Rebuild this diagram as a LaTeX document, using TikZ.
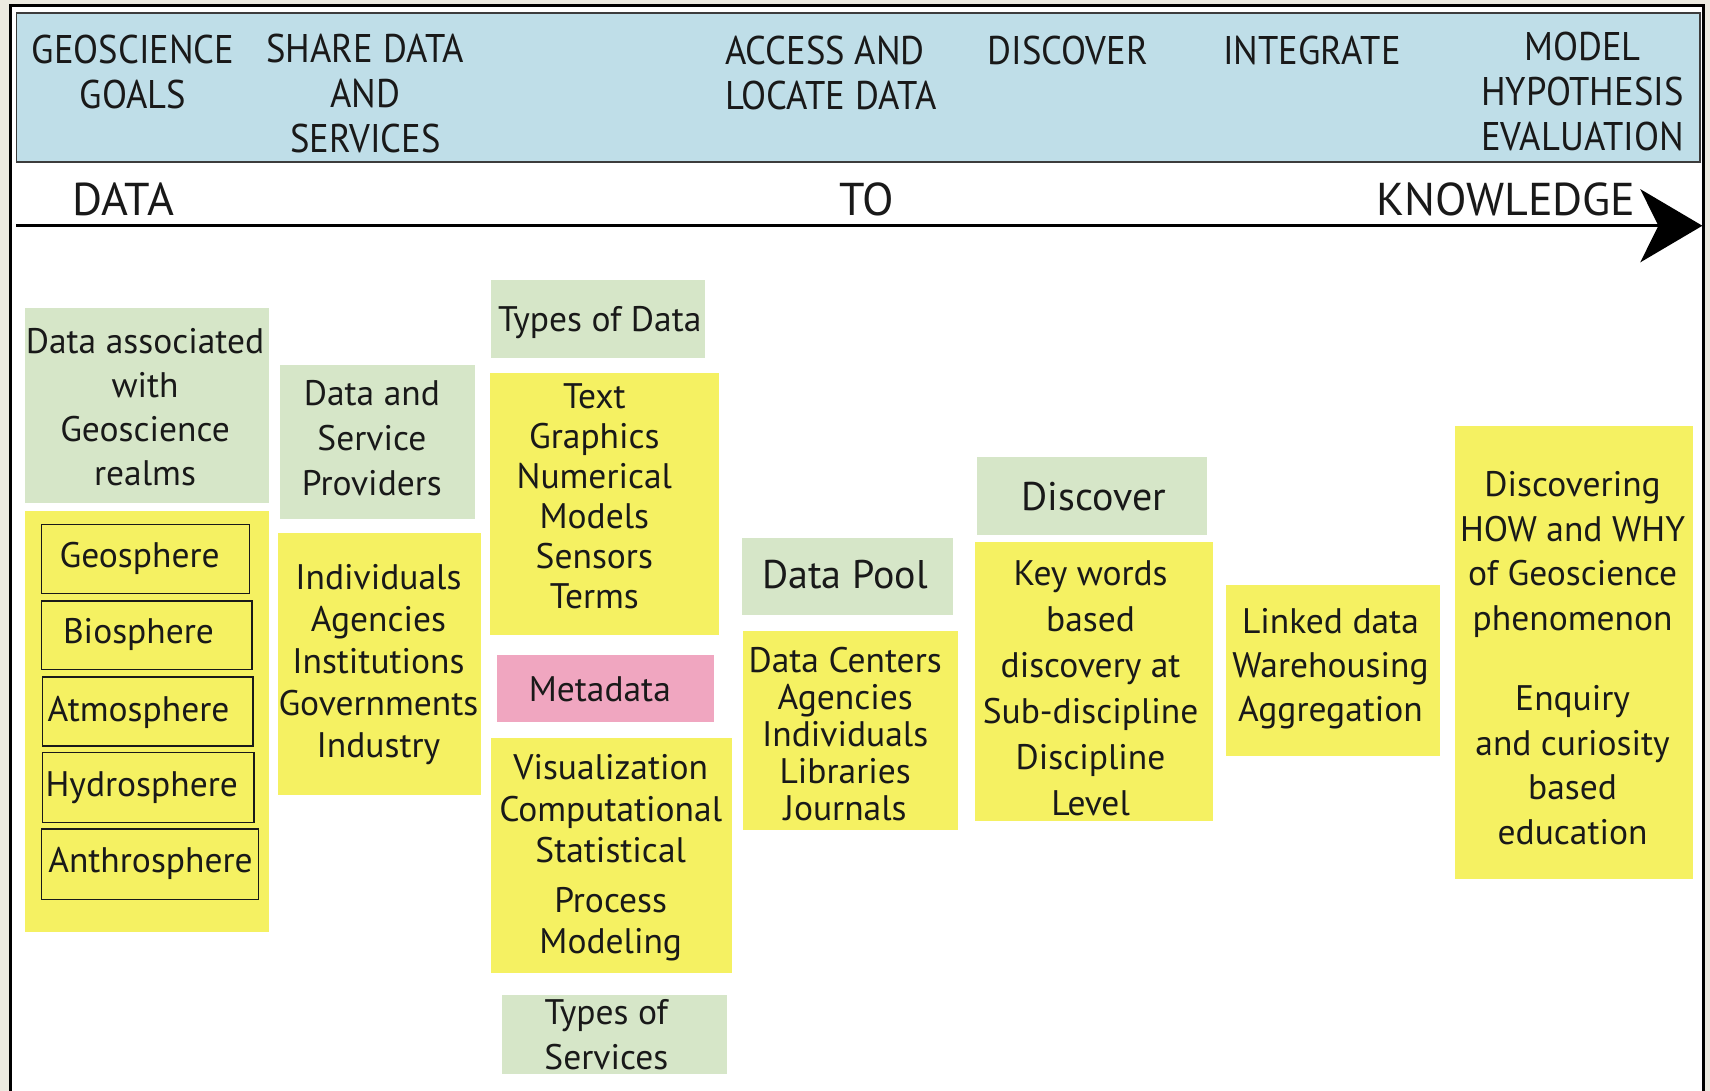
\documentclass[tikz,border=0pt]{standalone}
\usepackage{fontspec}
\setmainfont{PT Sans}
\newfontfamily\hdrfont[FakeStretch=0.915]{PT Sans}
\usetikzlibrary{arrows.meta}
\definecolor{beige}{RGB}{236,234,224}
\definecolor{hdrblue}{RGB}{191,222,232}
\definecolor{boxyellow}{RGB}{245,241,98}
\definecolor{boxgreen}{RGB}{214,230,200}
\definecolor{boxpink}{RGB}{240,166,192}
\definecolor{ink}{RGB}{25,25,25}
\newcommand\mkbox[6]{\node[#2, minimum width={(#5-#3)*1.0906pt}, minimum height={(#6-#4)*1.0906pt}] (#1) at ({(#3+#5)/2},{(#4+#6)/2}) {};}
\begin{document}
\begin{tikzpicture}[x=1.0906pt, y=-1.0906pt,
  every node/.style={inner sep=0pt, outer sep=0pt, text=ink},
  hdr/.style={font=\hdrfont\fontsize{40}{45}\selectfont, align=center},
  big/.style={font=\fontsize{46}{50}\selectfont},
  body/.style={font=\fontsize{35.5}{#1}\selectfont, align=center},
  body/.default=44,
  ybox/.style={fill=boxyellow},
  gbox/.style={fill=boxgreen},
  pbox/.style={fill=boxpink},
  hbox/.style={fill=hdrblue, draw=ink!85, line width=1.5pt},
  sphere/.style={draw=ink, line width=1.5pt, fill=boxyellow}]
\useasboundingbox (0,0) rectangle (1568,1000);
\fill[beige] (0,0) rectangle (1568,1000);
\fill[white] (9.6,4.6) rectangle (1562.4,1002);
\draw[line width=3pt] (9.6,1003) -- (9.6,4.6) -- (1562.4,4.6) -- (1562.4,1003);

% header
\mkbox{header}{hbox}{15}{12}{1559}{148.5}
\node[hdr] (h1) at (122,66) {GEOSCIENCE\\GOALS};
\node[hdr] (h2) at (335,86) {SHARE DATA\\AND\\SERVICES};
\node[hdr, align=left, anchor=west] (h3) at (665,67) {ACCESS AND\\LOCATE DATA};
\node[hdr] (h4) at (979,46.5) {DISCOVER};
\node[hdr] (h5) at (1203,46.5) {INTEGRATE};
\node[hdr] (h6) at (1451,84) {MODEL\\HYPOTHESIS\\EVALUATION};

% axis
\node[big] (tdata) at (113,183) {DATA};
\node[big] (tto) at (795,183) {TO};
\node[big] (tknow) at (1381,183) {KNOWLEDGE};
\coordinate (astart) at (15,207);
\coordinate (aend) at (1561,207);
\draw[line width=3pt, -{Stealth[length=62pt, width=73pt, inset=18pt]}] (astart) -- (aend);

% column 1
\mkbox{g1}{gbox}{23}{282}{247}{461}
\node[body=44] (g1t) at (133,373) {Data associated\\with\\Geoscience\\realms};
\mkbox{y1}{ybox}{23}{469}{247}{855}
\mkbox{geo}{sphere}{38}{481}{229}{544}
\node[body] (geot) at (128,512) {Geosphere};
\mkbox{bio}{sphere}{38}{551}{231}{614}
\node[body] (biot) at (127,582) {Biosphere};
\mkbox{atm}{sphere}{39}{621}{232}{684}
\node[body] (atmt) at (127,653) {Atmosphere};
\mkbox{hyd}{sphere}{39}{690}{233}{754}
\node[body] (hydt) at (130,722) {Hydrosphere};
\mkbox{ant}{sphere}{38}{760}{237}{825}
\node[body] (antt) at (138,792) {Anthrosphere};

% column 2
\mkbox{g2}{gbox}{257}{335}{436}{476}
\node[body=45] (g2t) at (341,402) {Data and\\Service\\Providers};
\mkbox{y2}{ybox}{255}{489}{441}{729}
\node[body=42] (y2t) at (347,609) {Individuals\\Agencies\\Institutions\\Governments\\Industry};

% column 3
\mkbox{g3}{gbox}{450}{257}{646}{328}
\node[body] (g3t) at (550,296) {Types of Data};
\mkbox{y3}{ybox}{449}{342}{659}{582}
\node[body=40] (y3t) at (545,455) {Text\\Graphics\\Numerical\\Models\\Sensors\\Terms};
\mkbox{meta}{pbox}{456}{601}{655}{662}
\node[body] (metat) at (550,632) {Metadata};
\mkbox{y4}{ybox}{450}{677}{671}{892}
\node[body=41.5] (y4t) at (560,786.5) {Visualization\\Computational\\Statistical\\[8pt]Process\\Modeling};
\mkbox{g4}{gbox}{460}{912}{667}{985}
\node[body=45] (g4t) at (556,948.5) {Types of\\Services};

% column 4
\mkbox{g5}{gbox}{680}{493}{874}{564}
\node[body, font=\fontsize{40}{44}\selectfont] (g5t) at (775,527) {Data Pool};
\mkbox{y5}{ybox}{681}{579}{878}{761}
\node[body=37] (y5t) at (775,673) {Data Centers\\Agencies\\Individuals\\Libraries\\Journals};

% column 5
\mkbox{g6}{gbox}{896}{419}{1107}{491}
\node[body, font=\fontsize{40}{44}\selectfont] (g6t) at (1003,455) {Discover};
\mkbox{y6}{ybox}{894}{497}{1112}{753}
\node[body=46] (y6t) at (1000,631.5) {Key words\\based\\discovery at\\Sub-discipline\\Discipline\\Level};

% column 6
\mkbox{y7}{ybox}{1124}{536}{1320}{693}
\node[body=44] (y7t) at (1220,613.5) {Linked data\\Warehousing\\Aggregation};

% column 7
\mkbox{y8}{ybox}{1334}{391}{1552}{806}
\node[body=44.7] (y8t) at (1442,603.5) {Discovering\\HOW and WHY\\of Geoscience\\phenomenon\\[35pt]Enquiry\\and curiosity\\based\\education};
\end{tikzpicture}
\end{document}
